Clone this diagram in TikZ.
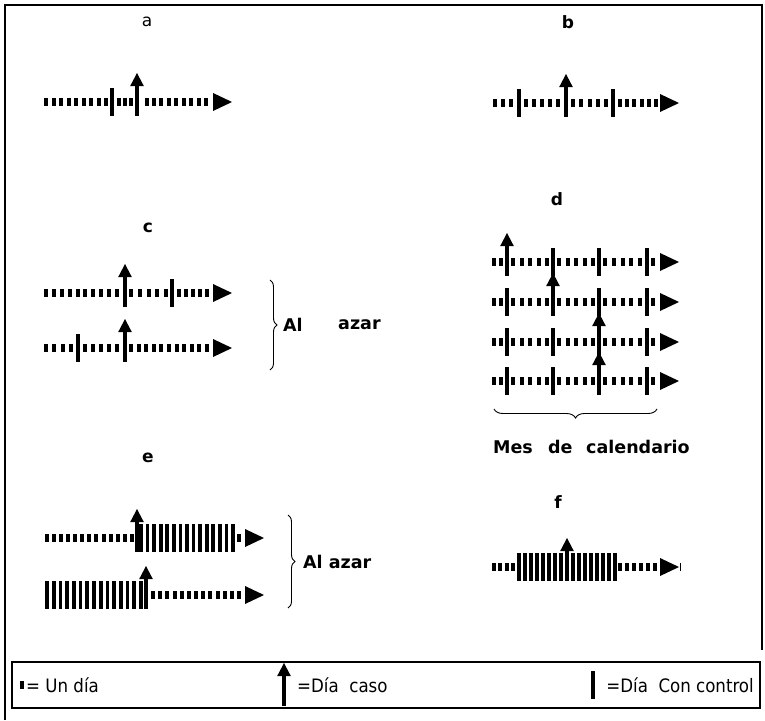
\documentclass[tikz,border=0pt]{standalone}
\usepackage{fontspec}
\setmainfont{DejaVu Sans}
\newfontfamily\legendfont{DejaVu Sans Condensed}
\usetikzlibrary{decorations.pathreplacing}

% a run of n evenly spaced marks: y, first x, last x, n, half height, width
\newcommand\tickrow[6]{%
  \foreach \k in {1,...,#4}{%
    \pgfmathsetmacro\tx{#2+(\k-1)*(#3-#2)/(#4-1)}%
    \fill (\tx-#6/2,#1-#5) rectangle (\tx+#6/2,#1+#5);
  }}
\newcommand\dayrun[4]{\tickrow{#1}{#2}{#3}{#4}{4}{4}}
\newcommand\ctrlrun[4]{\tickrow{#1}{#2}{#3}{#4}{14}{3.6}}
% single marks: x, y
\newcommand\daymark[2]{\fill (#1-2,#2-4) rectangle (#1+2,#2+4);}
\newcommand\ctrlmark[2]{\fill (#1-1.6,#2-14) rectangle (#1+1.6,#2+14);}
\newcommand\casemark[2]{%
  \fill (#1-1.6,#2+14) rectangle (#1+1.6,#2-17);
  \fill (#1-6.8,#2-16) -- (#1+6.8,#2-16) -- (#1,#2-29) -- cycle;}
\newcommand\timehead[2]{\fill (#1,#2-9) -- (#1+19,#2) -- (#1,#2+9) -- cycle;}

\begin{document}
\begin{tikzpicture}[x=1pt,y=-1pt,
  lbl/.style={font=\fontsize{17}{19}\selectfont\bfseries, inner sep=0pt},
  lblplain/.style={font=\fontsize{17}{19}\selectfont, inner sep=0pt},
  note/.style={font=\fontsize{17.5}{20}\selectfont\bfseries, inner sep=0pt, anchor=west},
  legtxt/.style={font=\legendfont\fontsize{18.5}{21}\selectfont, inner sep=0pt},
  bracegap/.style={decorate, decoration={brace, amplitude=7pt}, line width=0.9pt}]
\useasboundingbox (0,0) rectangle (765,720);

% outer frame
\draw[line width=2pt] (5,720) -- (5,5) -- (762,5) -- (762,650);

% panel labels
\node[lblplain] (la) at (147,22) {a};
\node[lbl] (lb) at (568,22) {b};
\node[lbl] (lc) at (148,228) {c};
\node[lbl] (ld) at (557,199) {d};
\node[lbl] (le) at (148,458) {e};
\node[lbl] (lf) at (558,502) {f};

% a
\dayrun{102}{46}{106}{9}
\ctrlmark{112}{102}
\dayrun{102}{118.5}{131}{3}
\casemark{137}{102}
\dayrun{102}{146.5}{206}{9}
\timehead{213}{102}

% b
\dayrun{103}{495}{511}{3}
\ctrlmark{519}{103}
\dayrun{103}{526}{558}{5}
\casemark{566}{103}
\dayrun{103}{573}{606}{5}
\ctrlmark{613}{103}
\dayrun{103}{620}{656}{6}
\timehead{660}{103}

% c
\dayrun{293}{46}{117}{10}
\casemark{125}{293}
\dayrun{293}{131}{166}{5}
\ctrlmark{172}{293}
\dayrun{293}{179}{207}{5}
\timehead{213}{293}

\dayrun{348}{46}{71}{4}
\ctrlmark{78}{348}
\dayrun{348}{85}{117}{5}
\casemark{125}{348}
\dayrun{348}{131}{207}{11}
\timehead{213}{348}

\draw[bracegap] (270,280) -- (270,370);
\node[note] (alc) at (283,325) {Al};
\node[note] (azc) at (338,325) {azar};

% d: four rows of one calendar month
\foreach \y/\ta/\tb/\tc in {262/1/0/0, 302/0/1/0, 342/0/0/1, 381/0/0/1}{
  \dayrun{\y}{494}{501}{2}
  \ifnum\ta=1 \casemark{507}{\y}\else\ctrlmark{507}{\y}\fi
  \dayrun{\y}{513}{547}{5}
  \ifnum\tb=1 \casemark{553}{\y}\else\ctrlmark{553}{\y}\fi
  \dayrun{\y}{559}{593}{5}
  \ifnum\tc=1 \casemark{599}{\y}\else\ctrlmark{599}{\y}\fi
  \dayrun{\y}{605}{640}{5}
  \ctrlmark{647}{\y}
  \daymark{653}{\y}
  \timehead{660}{\y}
}
\draw[decorate, decoration={brace, amplitude=9pt, mirror}, line width=0.9pt] (494,409) -- (657,409);
\node[note] (mes) at (493,447) {Mes};
\node[note] (de) at (548,447) {de};
\node[note] (cal) at (586,447) {calendario};

% e
\dayrun{538}{46.5}{132}{13}
\ctrlrun{538}{141}{233}{15}
\casemark{137}{538}
\daymark{239}{538}
\timehead{245}{538}

\ctrlrun{595}{47}{141}{15}
\casemark{146}{595}
\dayrun{595}{153}{239}{13}
\timehead{245}{595}

\draw[bracegap] (288,515) -- (288,608);
\node[note] (aze) at (303,562) {Al azar};

% f
\dayrun{567}{494}{513}{4}
\ctrlrun{567}{519}{615}{17}
\casemark{567}{567}
\dayrun{567}{620}{655}{6}
\timehead{660}{567}
\fill (679.5,563) rectangle (680.5,571);

% legend
\draw[line width=1.2pt] (12,662) rectangle (760,708);
\daymark{22}{685}
\node[legtxt, anchor=west] (l1) at (26,685) {= Un día};
\casemark{284}{692}
\node[legtxt, anchor=west] (l2) at (297,685) {=Día\ \ caso};
\ctrlmark{593}{685}
\node[legtxt, anchor=east] (l3) at (754,685) {=Día\ \ Con control};
\end{tikzpicture}
\end{document}
